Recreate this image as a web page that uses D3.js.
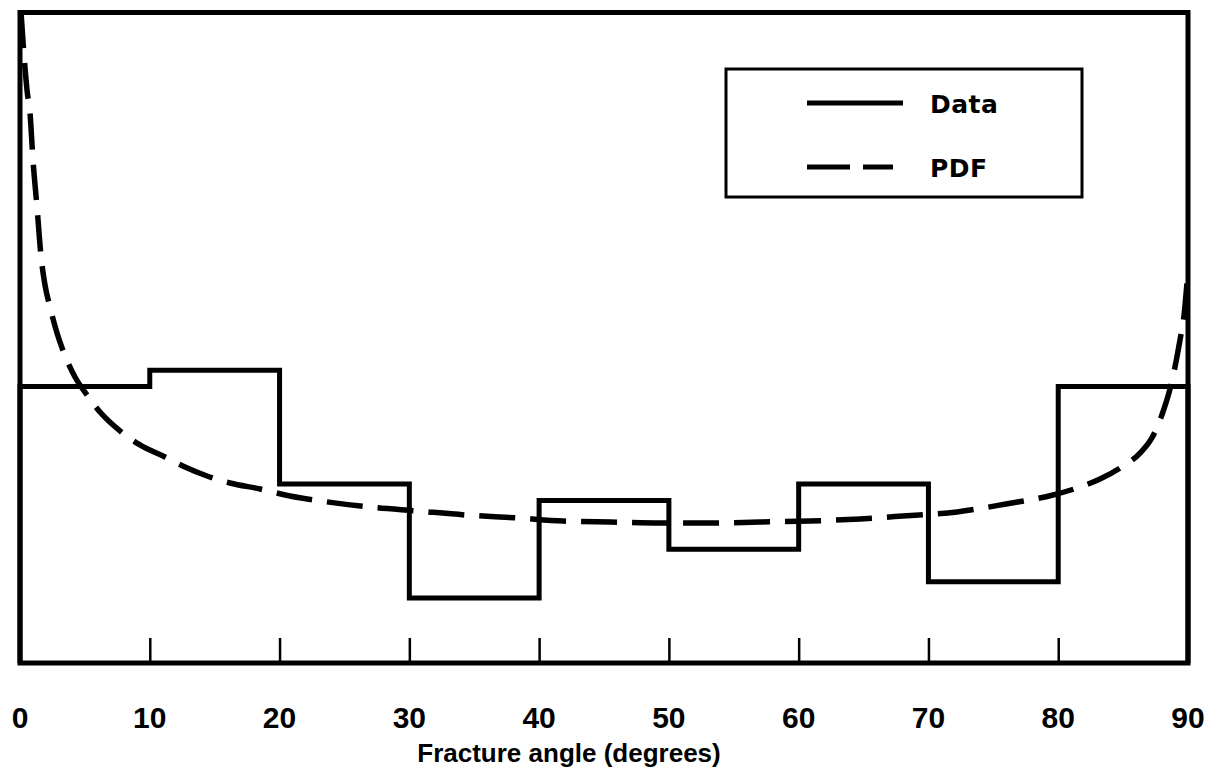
<!DOCTYPE html>
<html>
<head>
<meta charset="utf-8">
<script src="https://cdn.jsdelivr.net/npm/d3@7"></script>
<style>
  html, body { margin: 0; padding: 0; background: #fff; }
  svg text { font-family: "Liberation Sans", Arial, Helvetica, sans-serif; font-weight: bold; fill: #000; }
  svg text.lab { font-family: "DejaVu Sans", "Liberation Sans", sans-serif; }
</style>
</head>
<body>
<svg id="chart" width="1212" height="774"></svg>
<script>
// ---- data ----
const binEdges = [0, 10, 20, 30, 40, 50, 60, 70, 80, 90];
const binDensity = [0.017, 0.018, 0.011, 0.004, 0.010, 0.007, 0.011, 0.005, 0.017];
const pdfAngle = [0.077, 0.308, 0.539, 0.771, 1.002, 1.310, 1.618, 1.926, 2.312, 2.851, 3.390, 4.238, 5.163,
  6.164, 7.705, 9.246, 11.173, 12.714, 14.409, 16.181, 18.493, 20.804, 23.193, 26.969, 30.590, 34.366, 38.295,
  41.840, 45.538, 49.314, 53.321, 57.019, 60.872, 64.725, 68.038, 72.199, 75.975, 79.596, 81.677, 83.218,
  84.759, 86.300, 87.301, 88.149, 88.689, 89.074, 89.382, 89.690, 89.921];
const pdfDensity = [0.04003, 0.03739, 0.03524, 0.03382, 0.03093, 0.02804, 0.02503, 0.02324, 0.02189, 0.02029,
  0.01906, 0.01759, 0.01648, 0.01543, 0.01427, 0.01341, 0.01267, 0.01205, 0.01150, 0.01107, 0.01070, 0.01027,
  0.00996, 0.00959, 0.00935, 0.00910, 0.00892, 0.00873, 0.00867, 0.00861, 0.00861, 0.00867, 0.00873, 0.00886,
  0.00904, 0.00929, 0.00978, 0.01033, 0.01082, 0.01131, 0.01199, 0.01291, 0.01396, 0.01562, 0.01709, 0.01851,
  0.01986, 0.02134, 0.02337];
const xTicks = [0, 10, 20, 30, 40, 50, 60, 70, 80, 90];
const xTitle = "Fracture angle (degrees)";
const legendLabels = ["Data", "PDF"];

(function () {
  const svg = d3.select("#chart");
  const pL = 20, pR = 1188, pT = 12.5, pB = 663;
  const x = d3.scaleLinear().domain([0, 90]).range([pL, pR]);
  const y = d3.scaleLinear().domain([0, 0.04]).range([pB, pT]);

  svg.append("defs").append("clipPath").attr("id", "plotclip")
    .append("rect").attr("x", pL).attr("y", pT).attr("width", pR - pL).attr("height", pB - pT);

  // tick marks (inside, pointing up)
  const axis = d3.axisTop(x).tickValues(xTicks.slice(1, -1)).tickSize(25).tickFormat("");
  const gAxis = svg.append("g").attr("transform", `translate(0,${pB})`).call(axis);
  gAxis.select(".domain").remove();
  gAxis.selectAll(".tick line").attr("stroke", "#000").attr("stroke-width", 2.5);

  // tick labels
  svg.append("g").selectAll("text").data(xTicks).join("text")
    .attr("x", d => x(d)).attr("y", 728)
    .attr("text-anchor", "middle")
    .style("font-size", "30px")
    .text(d => d);

  // axis title
  svg.append("text").attr("x", 569).attr("y", 762)
    .attr("text-anchor", "middle").style("font-size", "26px").text(xTitle);

  // histogram step line
  const stepPts = [[binEdges[0], 0]];
  binDensity.forEach((v, i) => {
    stepPts.push([binEdges[i], v]);
    stepPts.push([binEdges[i + 1], v]);
  });
  stepPts.push([binEdges[binEdges.length - 1], 0]);
  svg.append("path")
    .attr("d", d3.line().x(d => x(d[0])).y(d => y(d[1]))(stepPts))
    .attr("fill", "none").attr("stroke", "#000").attr("stroke-width", 5)
    .attr("stroke-linejoin", "miter");

  // PDF dashed curve
  const pdfPts = pdfAngle.map((a, i) => [a, pdfDensity[i]]);
  svg.append("path")
    .attr("clip-path", "url(#plotclip)")
    .attr("d", d3.line().curve(d3.curveMonotoneX).x(d => x(d[0])).y(d => y(d[1]))(pdfPts))
    .attr("fill", "none").attr("stroke", "#000").attr("stroke-width", 5.5)
    .attr("stroke-dasharray", "36,15");

  // frame
  svg.append("rect").attr("x", pL).attr("y", pT).attr("width", pR - pL).attr("height", pB - pT)
    .attr("fill", "none").attr("stroke", "#000").attr("stroke-width", 5);

  // legend
  const lg = svg.append("g");
  lg.append("rect").attr("x", 726).attr("y", 69).attr("width", 356).attr("height", 128)
    .attr("fill", "#fff").attr("stroke", "#000").attr("stroke-width", 3);
  lg.append("line").attr("x1", 807).attr("x2", 903).attr("y1", 103).attr("y2", 103)
    .attr("stroke", "#000").attr("stroke-width", 5);
  lg.append("line").attr("x1", 807).attr("x2", 893).attr("y1", 167).attr("y2", 167)
    .attr("stroke", "#000").attr("stroke-width", 5).attr("stroke-dasharray", "43,13");
  lg.selectAll("text.lab").data(legendLabels).join("text").attr("class", "lab")
    .attr("x", 930).attr("y", (d, i) => i === 0 ? 113 : 177)
    .style("font-size", "25px").style("letter-spacing", "0.5px").text(d => d);
})();
</script>
</body>
</html>
